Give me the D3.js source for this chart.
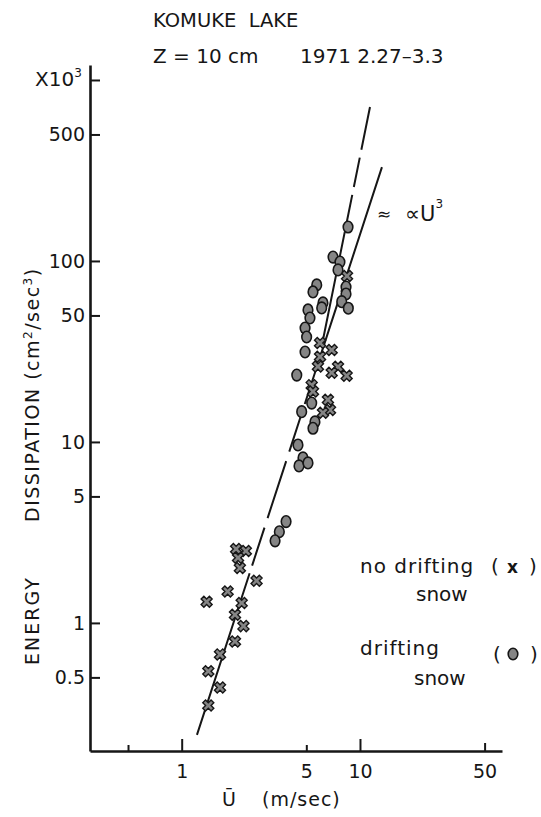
<!DOCTYPE html>
<html><head><meta charset="utf-8">
<script src="https://cdn.jsdelivr.net/npm/d3@7"></script>
<style>
body{margin:0;background:#fff}
svg{display:block}
text{font-family:"DejaVu Sans",sans-serif;fill:#161616}
</style>
</head><body>
<svg id="c" width="541" height="817"></svg>
<script>
// ---- data ----
const xTickValues = [0.5, 1, 5, 10, 50];
const xTickLabels = ["", "1", "5", "10", "50"];
const yTickValues = [0.5, 1, 5, 10, 50, 100, 500, 1000];
const yTickLabels = ["0.5", "1", "5", "10", "50", "100", "500", ""];

// no drifting snow (x)
const noDriftU = [8.46,5.97,6.94,5.97,5.81,7.53,8.42,6.94,5.36,5.45,6.61,6.79,6.20,2.02,2.29,2.07,2.12,2.63,1.81,1.38,2.17,1.99,2.22,1.99,1.64,1.41,1.64,1.41];
const noDriftE = [82.6,35.2,32.2,29.6,26.1,26.0,23.2,24.1,20.6,19.0,17.1,15.0,14.5,2.56,2.50,2.29,2.01,1.71,1.49,1.31,1.29,1.11,0.96,0.79,0.67,0.54,0.44,0.35];

// drifting snow (●)
const driftU = [8.57,7.06,7.72,7.53,8.35,8.35,7.90,8.60,5.72,5.45,6.20,6.10,5.11,5.24,4.92,5.02,4.92,4.42,5.36,4.71,5.59,5.45,4.49,4.79,4.55,5.11,3.85,3.53,3.34];
const driftE = [154,105,98.7,89.2,71.8,65.7,59.6,54.8,73.7,67.4,58.6,55.0,53.6,48.4,42.6,38.0,31.4,23.4,16.4,14.7,12.9,11.9,9.62,8.16,7.37,7.66,3.63,3.19,2.84];

// fitted lines
const steepLineU = [6.20, 11.38];
const steepLineE = [36.6, 709];
const cubeLineU = [1.218, 13.28];
const cubeLineE = [0.2405, 330];

// ---- layout ----
const svg = d3.select("#c");
const x = d3.scaleLog().domain([0.306, 62.6]).range([90, 502]);
const y = d3.scaleLog().domain([0.196, 1210]).range([751, 65]);
const ink = "#161616", grey = "#858585";

// axes
const yAxis = d3.axisLeft(y).tickValues(yTickValues)
  .tickFormat((d,i)=>yTickLabels[i]).tickSize(-10).tickSizeOuter(0).tickPadding(5);
const gy = svg.append("g").attr("transform","translate(90,0)").call(yAxis);
gy.selectAll("text").style("font-size","19px").attr("fill",ink);

const xAxis = d3.axisBottom(x).tickValues(xTickValues)
  .tickFormat((d,i)=>xTickLabels[i]).tickSize(-12).tickSizeOuter(0).tickPadding(14);
const gx = svg.append("g").attr("transform","translate(0,751)").call(xAxis);
gx.selectAll("text").style("font-size","19px").attr("fill",ink);
const xTickLen = [6,12,6,12,8];
gx.selectAll(".tick line").attr("y2",(d,i)=>-xTickLen[i]);

[gx,gy].forEach(g=>{
  g.select(".domain").attr("stroke",ink).attr("stroke-width",2.6);
  g.selectAll(".tick line").attr("stroke",ink).attr("stroke-width",2);
});

// fitted lines
const line = d3.line().x(d=>x(d[0])).y(d=>y(d[1]));
svg.append("path").datum(steepLineU.map((u,i)=>[u,steepLineE[i]]))
  .attr("d",line).attr("fill","none").attr("stroke",ink).attr("stroke-width",2)
  .attr("stroke-dasharray","110,8,30,8,30,8");
svg.append("path").datum(cubeLineU.map((u,i)=>[u,cubeLineE[i]]))
  .attr("d",line).attr("fill","none").attr("stroke",ink).attr("stroke-width",2)
  .attr("stroke-dasharray","170,8,40,10,60,10,40,10,40,8,60,10");

// markers
const crossPath = d3.symbol(d3.symbolCross, 76)();
svg.append("g").selectAll("path").data(noDriftU.map((u,i)=>[u,noDriftE[i]]))
  .join("path").attr("d",crossPath)
  .attr("transform",d=>`translate(${x(d[0])},${y(d[1])}) rotate(45)`)
  .attr("fill",grey).attr("stroke",ink).attr("stroke-width",1.4);

svg.append("g").selectAll("ellipse").data(driftU.map((u,i)=>[u,driftE[i]]))
  .join("ellipse").attr("cx",d=>x(d[0])).attr("cy",d=>y(d[1]))
  .attr("rx",4.8).attr("ry",5.8)
  .attr("fill",grey).attr("stroke",ink).attr("stroke-width",1.6);

// texts
svg.append("text").attr("x",153).attr("y",27).style("font-size","19.5px")
  .style("white-space","pre").text("KOMUKE  LAKE");
svg.append("text").attr("x",153).attr("y",63).style("font-size","20px")
  .style("white-space","pre").text("Z = 10 cm");
svg.append("text").attr("x",300).attr("y",63).style("font-size","20px")
  .text("1971 2.27–3.3");

const xt = svg.append("text").attr("x",35).attr("y",86).style("font-size","20px");
xt.append("tspan").text("X10");
xt.append("tspan").attr("dy",-9).style("font-size","12px").text("3");

// y axis title
const yt = svg.append("g").attr("transform","translate(39,0) rotate(-90)");
yt.append("text").attr("x",-665).attr("y",0).style("font-size","19px")
  .style("letter-spacing","2px").text("ENERGY");
const yt2 = yt.append("text").attr("x",-522).attr("y",0).style("font-size","19px")
  .style("letter-spacing","1.5px");
yt2.append("tspan").text("DISSIPATION (cm");
yt2.append("tspan").attr("dy",-7).style("font-size","12px").text("2");
yt2.append("tspan").attr("dy",7).text("/sec");
yt2.append("tspan").attr("dy",-7).style("font-size","12px").text("3");
yt2.append("tspan").attr("dy",7).text(")");

// x axis title
svg.append("text").attr("x",222).attr("y",806).style("font-size","19px").text("Ū");
svg.append("text").attr("x",262).attr("y",806).style("font-size","19px")
  .style("letter-spacing","1px").text("(m/sec)");

// ∝U³ annotation
svg.append("text").attr("x",377).attr("y",220).style("font-size","17px").text("≈");
const au = svg.append("text").attr("x",405).attr("y",221).style("font-size","21px");
au.append("tspan").text("∝U");
au.append("tspan").attr("dy",-13).style("font-size","12px").text("3");

// legend
const lg1 = svg.append("text").attr("x",360).attr("y",573).style("font-size","20px");
lg1.append("tspan").style("letter-spacing","1px").text("no drifting");
lg1.append("tspan").attr("x",491).text("(");
lg1.append("tspan").attr("x",507).style("font-weight","bold").style("font-size","17px").text("x");
lg1.append("tspan").attr("x",529).text(")");
svg.append("text").attr("x",416).attr("y",601).style("font-size","20px").text("snow");
svg.append("text").attr("x",360).attr("y",655).style("font-size","20px")
  .style("letter-spacing","1px").text("drifting");
const lg2 = svg.append("text").attr("x",493).attr("y",661).style("font-size","20px");
lg2.append("tspan").text("(");
lg2.append("tspan").attr("x",530).text(")");
svg.append("ellipse").attr("cx",513).attr("cy",654).attr("rx",4.8).attr("ry",5.8)
  .attr("fill",grey).attr("stroke",ink).attr("stroke-width",1.6);
svg.append("text").attr("x",414).attr("y",685).style("font-size","20px").text("snow");
</script>
</body></html>
